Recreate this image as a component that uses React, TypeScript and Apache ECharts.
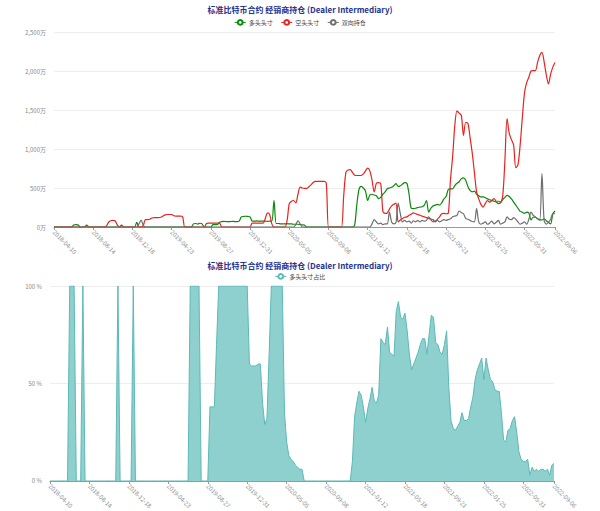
import React, { useEffect, useRef } from "react";
import * as echarts from "echarts";

// weekly report dates (Tuesdays) 2018-04-10 .. 2022-09-06
const START = Date.UTC(2018, 3, 10);
const dates: string[] = [];
for (let i = 0; i < 231; i++) {
  dates.push(new Date(START + i * 7 * 86400000).toISOString().slice(0, 10));
}

const z = (n: number) => new Array(n).fill(0);

// 多头头寸 (万)
const longPos: number[] = [
  ...z(9), 25, 30, 28, 0, 0, 0, 25, ...z(15), 25, ...z(6), 60, ...z(25),
  40, 45, 38, 48, 40, 0, 0, 0, 0,
  30, 30, 32, 60, 70, 72, 70, 68, 70, 72, 70, 70, 75,
  130, 135, 138, 135, 130,
  75, 75, 78, 75, 75, 75, 75, 72, 75, 75,
  340,
  45, 45, 40, 40, 40, 42, 40, 40, 35, 35, 35, 30, 28, 25,
  ...z(22),
  20, 280, 480, 520, 500, 460, 340, 410, 420, 410, 400, 365, 380,
  420, 450, 490, 500, 510, 530, 555, 520, 530, 550, 570,
  560, 420, 240, 235, 240, 250, 255, 260, 280, 340, 190,
  240, 270, 280, 290, 280, 310, 360, 390, 480, 490,
  490, 530, 560, 580, 620, 630, 600, 520, 470, 450,
  460, 420, 400, 385, 385, 375, 360, 350, 340, 330,
  320, 300, 310, 350, 380, 405, 390, 360, 320, 280,
  240, 200, 190, 175, 190, 180, 90, 125, 125, 105,
  95, 90, 105, 80, 60, 40, 170, 205,
];

// 空头头寸 (万)
const shortPos: number[] = [
  ...z(24), 10, 60, 80, 85, 80, 30, ...z(11),
  20, 95, 95, 100, 115, 120, 120, 120, 125, 140, 155, 160, 160, 160, 145, 140, 140, 140, 135,
  ...z(10),
  45, 50, 50, 50, 50, 50, 50,
  ...z(14),
  50, 50, 50, 50, 50, 50, 110, 180, 160, 40,
  ...z(6),
  80, 300, 330, 340, 310, 420, 510, 500, 495, 495, 515, 540, 570, 585, 585, 585, 585, 585, 560,
  ...z(7),
  400, 700, 730, 735, 700, 665, 660, 660, 660, 680, 720, 755, 720,
  600, 450, 560, 570, 555, 200, 175, 180, 230, 270, 290, 305,
  65, 90, 110, 125, 130, 150, 165, 180, 170, 160, 150, 140,
  130, 120, 110, 100, 95, 65, 100, 130, 170, 175, 170, 175,
  600, 900, 1300, 1490, 1460, 1430, 1175, 1340, 1330, 1150, 950, 700,
  450, 360, 290, 255, 300, 340, 320, 340, 365, 330, 330, 320,
  400, 850, 1390, 1200, 1120, 1050, 760, 800, 1050, 1400, 1720, 1850,
  1920, 2000, 2005, 2005, 2110, 2200, 2240, 2120, 1950, 1835, 1960, 2050, 2110,
];

// 双向持仓 (万)
const spreadPos: number[] = [
  ...z(39), 40, 90, 20, ...z(69), 30, 80, 40, ...z(32),
  40, 95, 65, 40, 50, 30, 40, 40, 190, 65, 40, 60, 305, 170,
  65, 85, 65, 75, 50, 80, 65, 85, 65, 85, 75, 85,
  130, 95, 65, 80, 85, 65, 80, 95, 85, 95, 105, 130,
  140, 150, 205, 185, 170, 110, 100, 85, 70, 65, 235, 65,
  35, 50, 65, 35, 50, 75, 40, 60, 85, 35, 50, 65,
  130, 100, 95, 120, 100, 65, 35, 50, 65, 35, 100, 190,
  150, 130, 105, 85, 685, 85, 35, 60, 100, 170, 170,
];

// 多头头寸占比 (%)
const longRatio: number[] = [
  ...z(9), 100, 100, 100, 0, 0, 0, 100, ...z(15), 100, ...z(6), 100, ...z(25),
  100, 100, 100, 100, 100, 0, 0, 0, 0,
  38, 38, 38, 70,
  ...new Array(14).fill(100),
  60, 59, 59, 59, 60, 60, 40, 29, 32, 65,
  100, 100, 100, 100, 100, 100,
  35, 20, 13, 11, 10, 8, 7, 6, 6,
  ...z(22),
  10, 33, 40, 46, 44, 38, 30, 37, 42, 48, 41, 40,
  44, 73, 71, 70, 79, 66, 65, 64, 87, 92, 84, 83,
  86, 77, 65, 57, 60, 63, 66, 70, 73, 73, 65, 75,
  85, 84, 71, 70, 66, 65, 70, 77, 48, 31, 27, 26,
  28, 30, 35, 31, 31, 32, 38, 43, 52, 57, 60, 63,
  52, 63, 57, 52, 51, 47, 46, 46, 35, 21, 20, 26,
  27, 31, 33, 25, 15, 11, 10, 10, 11, 3, 7, 5,
  6, 5, 6, 6, 5, 6, 3, 8, 9,
];

const TITLE = "标准比特币合约 经销商持仓 (Dealer Intermediary)";
const LAST = dates.length - 1;
const showIdx = (i: number) => i % 18 === 0 || i === LAST;

const xAxisBase = (gridIndex: number) => ({
  type: "category" as const,
  gridIndex,
  data: dates,
  boundaryGap: false,
  axisLine: { lineStyle: { color: "#999", width: 1 } },
  axisTick: { show: true, interval: showIdx, length: 3, lineStyle: { color: "#999" } },
  axisLabel: {
    interval: showIdx,
    rotate: -45,
    fontSize: 6,
    color: "#888",
    margin: 4,
  },
  splitLine: { show: false },
});

const legendBase = {
  left: "center",
  itemWidth: 11,
  itemHeight: 6,
  itemGap: 8,
  lineStyle: { width: 1 },
  itemStyle: { borderWidth: 1 },
  textStyle: { fontSize: 6, color: "#444", padding: [0, 0, 0, -2] },
};

export default function App() {
  const ref = useRef<HTMLDivElement>(null);
  useEffect(() => {
    if (!ref.current) return;
    const chart = echarts.init(ref.current, null, { renderer: "svg" });
    chart.setOption({
      animation: false,
      backgroundColor: "#fff",
      textStyle: { fontFamily: "'Noto Sans CJK SC', 'Liberation Sans', sans-serif" },
      title: [
        {
          text: TITLE,
          left: "center",
          top: 0,
          textStyle: { fontSize: 8, fontWeight: "bold", color: "#24318c" },
        },
        {
          text: TITLE,
          left: "center",
          top: 256,
          textStyle: { fontSize: 8, fontWeight: "bold", color: "#24318c" },
        },
      ],
      legend: [
        {
          ...legendBase,
          top: 14,
          data: ["多头头寸", "空头头寸", "双向持仓"],
        },
        {
          ...legendBase,
          top: 268,
          data: ["多头头寸占比"],
        },
      ],
      grid: [
        { left: 54, right: 45, top: 32, height: 195 },
        { left: 50, right: 46, top: 286, height: 196 },
      ],
      xAxis: [xAxisBase(0), xAxisBase(1)],
      yAxis: [
        {
          type: "value",
          gridIndex: 0,
          min: 0,
          max: 2500,
          interval: 500,
          axisLabel: {
            fontSize: 6,
            color: "#888",
            formatter: (v: number) => v.toLocaleString("en-US") + "万",
          },
          splitLine: { lineStyle: { color: "#eee" } },
        },
        {
          type: "value",
          gridIndex: 1,
          min: 0,
          max: 100,
          interval: 50,
          axisLabel: { fontSize: 6, color: "#888", formatter: "{value} %" },
          splitLine: { lineStyle: { color: "#eee" } },
        },
      ],
      series: [
        {
          name: "多头头寸",
          type: "line",
          xAxisIndex: 0,
          yAxisIndex: 0,
          data: longPos,
          showSymbol: false,
          smooth: 0.3,
          color: "#0a8a0a",
          lineStyle: { width: 1.2 },
        },
        {
          name: "空头头寸",
          type: "line",
          xAxisIndex: 0,
          yAxisIndex: 0,
          data: shortPos,
          showSymbol: false,
          smooth: 0.3,
          color: "#e8231f",
          lineStyle: { width: 1.2 },
        },
        {
          name: "双向持仓",
          type: "line",
          xAxisIndex: 0,
          yAxisIndex: 0,
          data: spreadPos,
          showSymbol: false,
          smooth: 0.3,
          color: "#6e6e6e",
          lineStyle: { width: 1.2 },
        },
        {
          name: "多头头寸占比",
          type: "line",
          xAxisIndex: 1,
          yAxisIndex: 1,
          data: longRatio,
          showSymbol: false,
          color: "#5cb9b6",
          lineStyle: { width: 1 },
          areaStyle: { color: "#8dd0ce", opacity: 1 },
        },
      ],
    });
    return () => chart.dispose();
  }, []);
  return (
    <div
      ref={ref}
      style={{ position: "absolute", left: 0, top: 0, width: 600, height: 511 }}
    />
  );
}
